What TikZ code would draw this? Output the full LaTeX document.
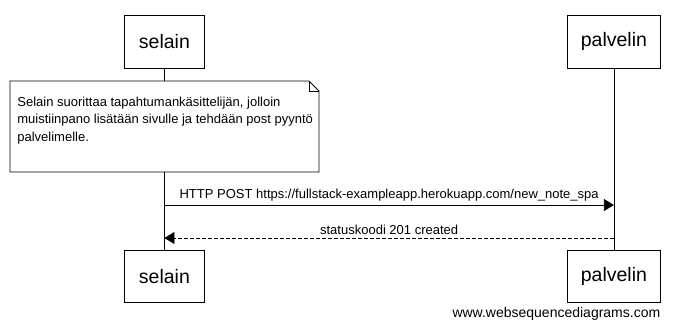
\documentclass[tikz,border=0pt]{standalone}
\usepackage{fontspec}
\setmainfont{Liberation Sans}
\usetikzlibrary{positioning,arrows.meta}

\tikzset{
  actor/.style={draw,minimum height=53pt,inner sep=0pt,font=\fontsize{19.5}{23}\selectfont},
  msg/.style={-{Triangle[length=10pt,width=12pt]}},
  reply/.style={msg,dash pattern=on 4pt off 2pt},
  lbl/.style={font=\fontsize{13}{15}\selectfont,inner sep=1pt}
}

\begin{document}
\begin{tikzpicture}[x=1pt,y=-1pt,line width=0.8pt]
  \useasboundingbox (0,0) rectangle (675,328);

  % participants, top and bottom
  \node[actor,minimum width=80pt,anchor=north west] (selainTop) at (124,15) {selain};
  \node[actor,minimum width=93pt,anchor=north west] (palvelinTop) at (567,15) {palvelin};
  \node[actor,minimum width=80pt,minimum height=52pt,anchor=north west] (selainBot) at (124,250) {selain};
  \node[actor,minimum width=93pt,minimum height=52pt,anchor=north west] (palvelinBot) at (567,250) {palvelin};

  % lifelines
  \draw (selainTop.south) -- (selainBot.north);
  \draw (palvelinTop.south) -- (palvelinBot.north);

  % note with folded corner
  \filldraw[fill=white] (10,81) -- (309,81) -- (319,91) -- (319,172) -- (10,172) -- cycle;
  \draw (309,81) -- (309,91) -- (319,91);
  \node[anchor=north west,align=left,inner sep=0pt,font=\fontsize{13}{17.5}\selectfont] (noteText) at (17,96.5)
    {Selain suorittaa tapahtumankäsittelijän, jolloin\\
     muistiinpano lisätään sivulle ja tehdään post pyyntö\\
     palvelimelle.};

  % messages
  \coordinate (postFrom) at (selainTop.south |- 0,205);
  \coordinate (postTo) at (palvelinTop.south |- 0,205);
  \coordinate (ackFrom) at (palvelinTop.south |- 0,238);
  \coordinate (ackTo) at (selainTop.south |- 0,238);

  \draw[msg] (postFrom) -- node[lbl,above=2pt] {HTTP POST https://fullstack-exampleapp.herokuapp.com/new\_note\_spa} (postTo);
  \draw[reply] (ackFrom) -- node[lbl,above=2pt] {statuskoodi 201 created} (ackTo);

  \node[anchor=east,font=\fontsize{14}{16}\selectfont] (footer) at (664,314) {www.websequencediagrams.com};
\end{tikzpicture}
\end{document}
